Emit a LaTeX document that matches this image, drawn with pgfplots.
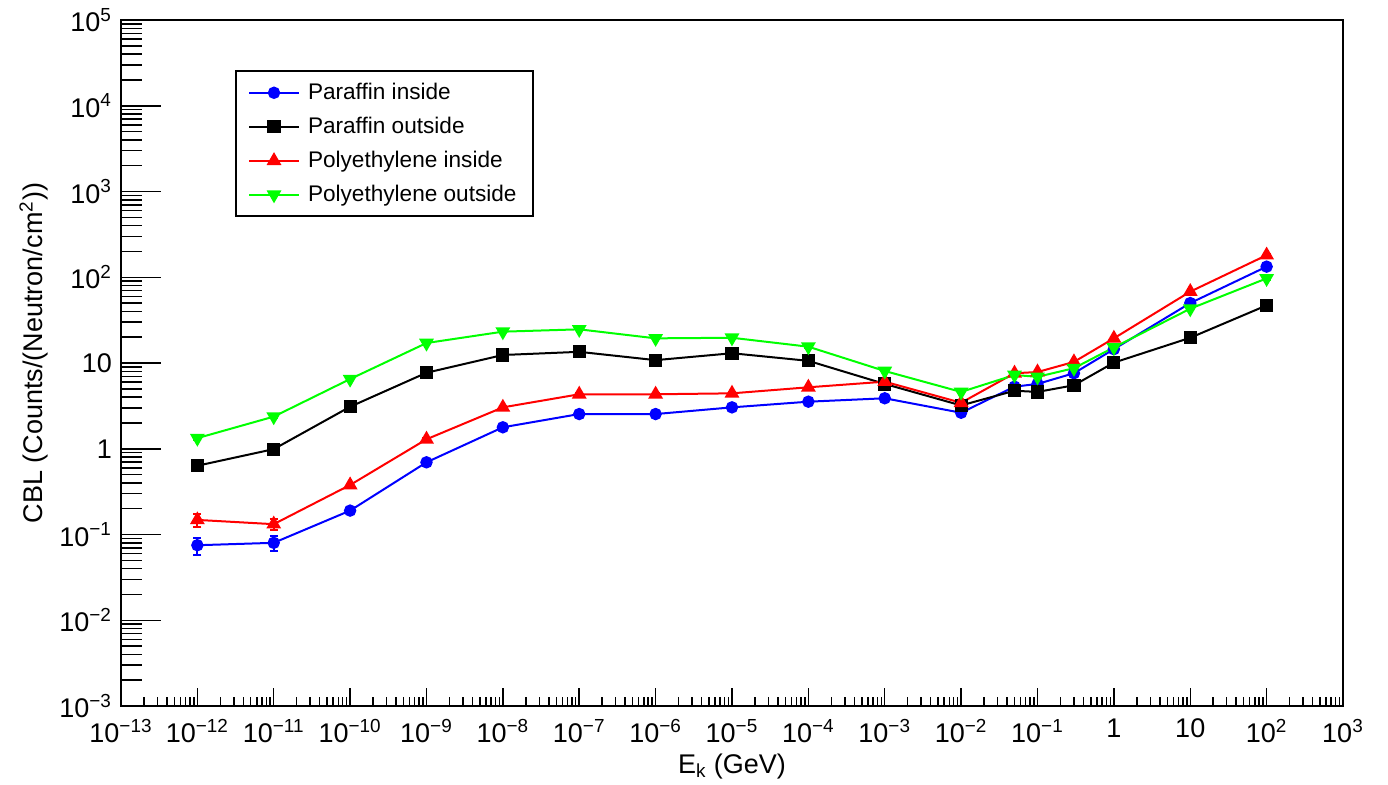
\documentclass[border=0pt]{standalone}
\usepackage{fontspec}
\setmainfont{Liberation Sans}
\usepackage{pgfplots}
\usepackage{pgfplotstable}
\pgfplotsset{compat=1.18}
\definecolor{rblue}{RGB}{0,0,255}
\definecolor{rred}{RGB}{255,0,0}
\definecolor{rgreen}{RGB}{0,255,0}
\newcommand\tp[1]{10\textsuperscript{#1}}

\pgfplotstableread{
x      pi     piE    po     poE    yi     yiE    yo     yoE
1e-12  0.075  0.017  0.634  0.06   0.148  0.025  1.33   0.05
1e-11  0.080  0.016  0.99   0.08   0.132  0.018  2.37   0.07
1e-10  0.19   0.012  3.09   0.1    0.378  0.015  6.5    0.15
1e-9   0.695  0.03   7.7    0.2    1.29   0.04   17.1   0.4
1e-8   1.78   0.05   12.4   0.3    3.04   0.08   23.2   0.5
1e-7   2.54   0.06   13.5   0.3    4.32   0.1    24.7   0.5
1e-6   2.54   0.06   10.8   0.3    4.32   0.1    19.4   0.4
1e-5   3.04   0.07   13.0   0.3    4.43   0.1    19.7   0.4
1e-4   3.54   0.08   10.6   0.3    5.21   0.1    15.5   0.35
1e-3   3.88   0.08   5.7    0.15   6.06   0.12   8.07   0.2
1e-2   2.63   0.06   3.2    0.1    3.44   0.08   4.6    0.1
0.05   5.3    0.15   4.75   0.15   7.6    0.2    7.25   0.2
0.1    5.7    0.15   4.6    0.15   7.85   0.2    6.9    0.2
0.3    7.6    0.2    5.5    0.2    10.3   0.25   8.7    0.2
1      14.5   0.4    10.1   0.3    19.4   0.5    15.2   0.4
10     50     1.5    19.7   1.2    68     2      43     1.2
100    133    4      47     3      181    5      97     3
}\data

\begin{document}
\begin{tikzpicture}
\useasboundingbox (-60.5pt,-39pt) rectangle (633.5pt,353pt);
\begin{axis}[
  at={(0,0)}, anchor=south west,
  scale only axis, width=611pt, height=343pt,
  xmode=log, ymode=log,
  xmin=1e-13, xmax=1e3, ymin=1e-3, ymax=1e5,
  xtick={1e-13,1e-12,1e-11,1e-10,1e-9,1e-8,1e-7,1e-6,1e-5,1e-4,1e-3,1e-2,1e-1,1,10,100,1000},
  xticklabels={\tp{−13},\tp{−12},\tp{−11},\tp{−10},\tp{−9},\tp{−8},\tp{−7},\tp{−6},\tp{−5},\tp{−4},\tp{−3},\tp{−2},\tp{−1},1,10,\tp{2},\tp{3}},
  ytick=\empty,
  tick pos=left, tick align=inside,
  major tick length=9pt, minor tick length=4.5pt,
  every tick/.style={black, line width=0.75pt},
  axis line style={line width=1pt},
  xticklabel style={font=\fontsize{13.5}{16}\selectfont, yshift=-3pt},
  xlabel={E\textsubscript{k} (GeV)},
  every axis x label/.style={at={(rel axis cs:0.5,0)}, anchor=base, yshift=-33.5pt, font=\fontsize{13.5}{16}\selectfont},
  legend style={at={(rel axis cs:0.0933,0.927)}, anchor=north west, draw=black, line width=1pt,
    font=\fontsize{11.3}{13}\selectfont, row sep=3.3pt, inner xsep=6pt, inner ysep=4pt, cells={anchor=west}},
  legend image code/.code={\draw[mark repeat=2,mark phase=2] plot coordinates {(0pt,0pt) (12.5pt,0pt) (25pt,0pt)};},
  legend cell align=left,
  clip=false,
]
\addplot[rblue, line width=1pt, mark=*, mark size=2.6pt, mark options={solid},
  error bars/.cd, y dir=both, y explicit, error bar style={line width=1pt}, error mark options={rotate=90, mark size=2pt, line width=1pt}]
  table[x=x, y=pi, y error=piE] {\data};
\addlegendentry{\hspace{2pt}Paraffin inside}
\addplot[black, line width=1pt, mark=square*, mark size=2.8pt, mark options={solid},
  error bars/.cd, y dir=both, y explicit, error bar style={line width=1pt}, error mark options={rotate=90, mark size=2pt, line width=1pt}]
  table[x=x, y=po, y error=poE] {\data};
\addlegendentry{\hspace{2pt}Paraffin outside}
\addplot[rred, line width=1pt, mark=triangle*, mark size=3.3pt, mark options={solid},
  error bars/.cd, y dir=both, y explicit, error bar style={line width=1pt}, error mark options={rotate=90, mark size=2pt, line width=1pt}]
  table[x=x, y=yi, y error=yiE] {\data};
\addlegendentry{\hspace{2pt}Polyethylene inside}
\addplot[rgreen, line width=1pt, mark=triangle*, mark size=3.3pt, mark options={solid, rotate=180},
  error bars/.cd, y dir=both, y explicit, error bar style={line width=1pt}, error mark options={rotate=90, mark size=2pt, line width=1pt}]
  table[x=x, y=yo, y error=yoE] {\data};
\addlegendentry{\hspace{2pt}Polyethylene outside}
\end{axis}
\begin{axis}[
  at={(0,0)}, anchor=south west,
  scale only axis, width=611pt, height=343pt,
  xmode=log, ymode=log,
  xmin=1e-13, xmax=1e3, ymin=1e-3, ymax=1e5,
  xtick=\empty,
  ytick={1e-3,1e-2,1e-1,1,10,100,1000,1e4,1e5},
  yticklabels={\tp{−3},\tp{−2},\tp{−1},1,10,\tp{2},\tp{3},\tp{4},\tp{5}},
  tick pos=left, tick align=inside,
  major tick length=20pt, minor tick length=10.5pt,
  every tick/.style={black, line width=0.75pt},
  axis line style={draw=none},
  yticklabel style={font=\fontsize{13.5}{16}\selectfont, xshift=-1pt},
  ylabel={CBL (Counts/(Neutron/cm\textsuperscript{2}))},
  every axis y label/.style={at={(rel axis cs:0,0.5)}, xshift=-39pt, yshift=5pt, rotate=90, anchor=base, font=\fontsize{13.5}{16}\selectfont},
]
\end{axis}
\end{tikzpicture}
\end{document}
